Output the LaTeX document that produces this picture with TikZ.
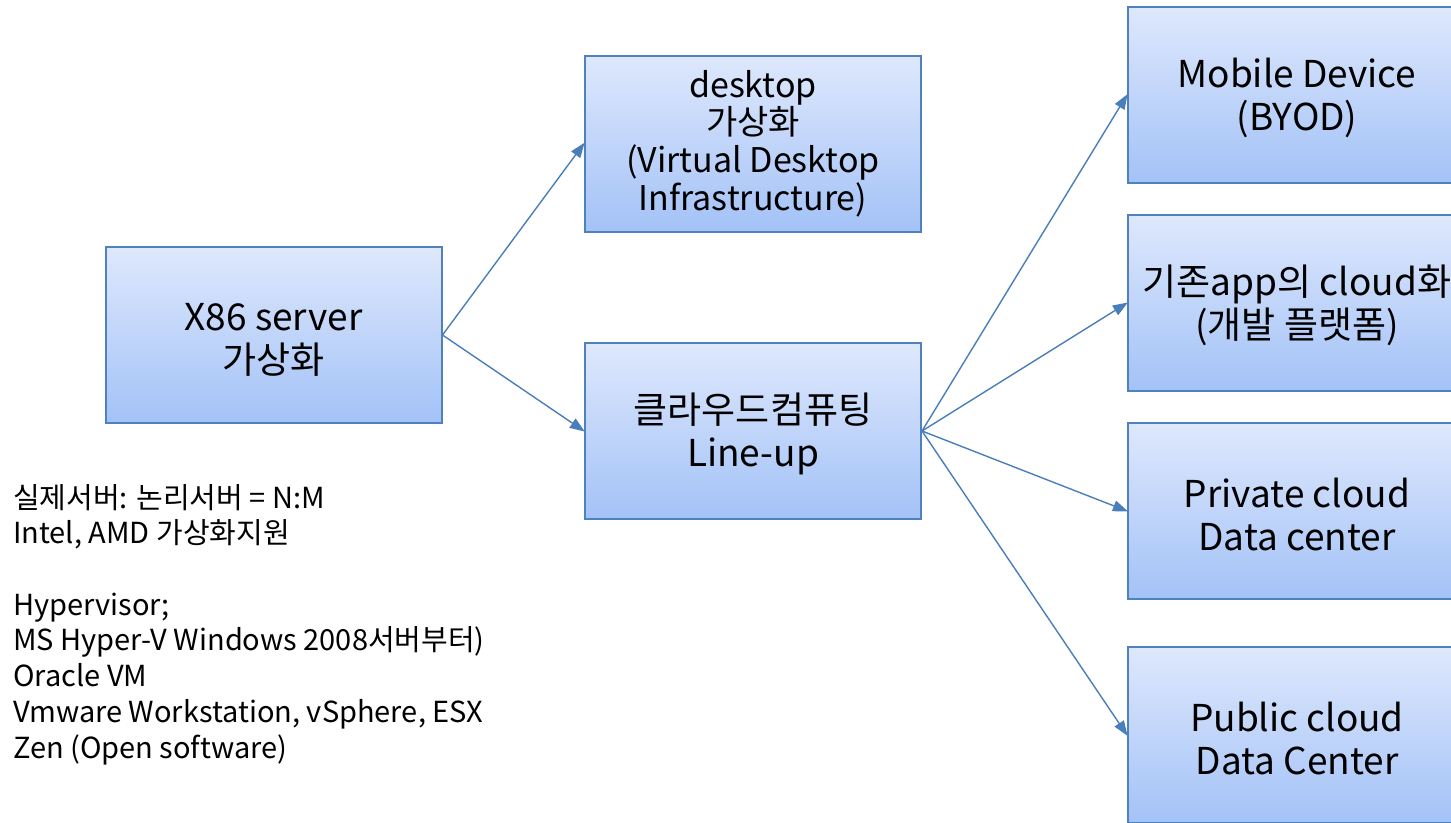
\documentclass[tikz,border=0pt]{standalone}
\usepackage{fontspec}
\setmainfont{Noto Sans CJK KR}
\usetikzlibrary{arrows.meta}
\definecolor{boxedge}{HTML}{4F81BD}
\definecolor{boxtop}{HTML}{DEE8FC}
\definecolor{boxbot}{HTML}{A3C2F7}
\definecolor{arrowc}{HTML}{4A7EBB}
\tikzset{
  blk/.style={rectangle, draw=boxedge, line width=2pt, top color=boxtop, bottom color=boxbot,
    minimum width=336pt, minimum height=176pt, inner sep=0pt, align=center,
    font=\fontsize{37}{43}\selectfont},
  conn/.style={draw=arrowc, line width=1.4pt, -{Triangle[length=15pt,width=11pt]}, shorten >=-1pt}
}
\begin{document}
\begin{tikzpicture}[x=1pt,y=1pt]
\useasboundingbox (0,0) rectangle (1451,-822);
\fill[white] (0,0) rectangle (1451,-822);
\clip (0,0) rectangle (1451,-822);
\node[blk] (x86) at (273.5,-335) {\rule{0pt}{36pt}X86 server\\가상화};
\node[blk, font=\fontsize{34}{37.7}\selectfont] (desk) at (753,-143.5) {desktop\\가상화\\(Virtual Desktop\\Infrastructure)};
\node[blk] (cloud) at (753,-431) {\rule{0pt}{36pt}클라우드컴퓨팅\\Line-up};
\node[blk, minimum width=338pt] (mob) at (1297,-95) {\rule{0pt}{36pt}Mobile Device\\(BYOD)};
\node[blk, minimum width=338pt] (app) at (1297,-303) {\rule{0pt}{36pt}기존app의 cloud화\\(개발 플랫폼)};
\node[blk, minimum width=338pt] (priv) at (1297,-511) {\rule{0pt}{36pt}Private cloud\\Data center};
\node[blk, minimum width=338pt] (pub) at (1297,-735) {\rule{0pt}{36pt}Public cloud\\Data Center};
\draw[conn] (x86.east) -- (desk.west);
\draw[conn] (x86.east) -- (cloud.west);
\draw[conn] (cloud.east) -- (mob.west);
\draw[conn] (cloud.east) -- (app.west);
\draw[conn] (cloud.east) -- (priv.west);
\draw[conn] (cloud.east) -- (pub.west);
\node[anchor=north west, inner sep=0pt, align=left, font=\fontsize{29}{35.7}\selectfont] (notes) at (13,-484)
  {실제서버: 논리서버 = N:M\\Intel, AMD 가상화지원\\[35.7pt]Hypervisor;\\MS Hyper-V Windows 2008서버부터)\\Oracle VM\\Vmware Workstation, vSphere, ESX\\Zen (Open software)};
\end{tikzpicture}
\end{document}
